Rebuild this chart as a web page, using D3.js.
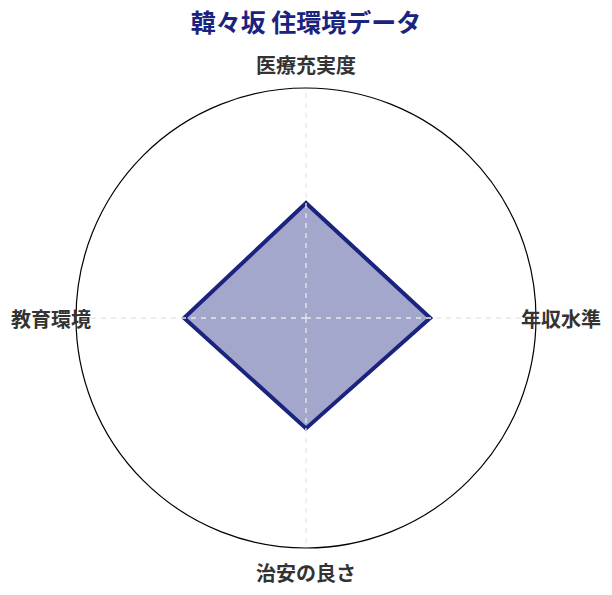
<!DOCTYPE html>
<html>
<head>
<meta charset="utf-8">
<script src="https://cdn.jsdelivr.net/npm/d3@7"></script>
<style>
  body { margin: 0; background: #fff; }
  text { font-family: "Noto Sans CJK JP", "Noto Sans", sans-serif; }
</style>
</head>
<body>
<div id="chart"></div>
<script>
// 軸ラベル（上から時計回り）
const axes = ["医療充実度", "年収水準", "治安の良さ", "教育環境"];
// 各軸の値（0〜100）
const values = [50, 54, 48, 53];
const maxValue = 100;
const title = "韓々坂 住環境データ";

const width = 612, height = 595;
const cx = 306, cy = 318, radius = 230;

const svg = d3.select("#chart")
  .append("svg")
  .attr("width", width)
  .attr("height", height);

const r = d3.scaleLinear().domain([0, maxValue]).range([0, radius]);
const angle = d3.scalePoint().domain(axes.concat("_end")).range([0, 2 * Math.PI]);

const g = svg.append("g").attr("transform", `translate(${cx},${cy})`);

// 外周の円
g.append("circle")
  .attr("r", r(maxValue))
  .attr("fill", "none")
  .attr("stroke", "#000")
  .attr("stroke-width", 1.2);

// データの多角形
const line = d3.lineRadial()
  .angle((d, i) => angle(axes[i]))
  .radius(d => r(d))
  .curve(d3.curveLinearClosed);

g.append("path")
  .datum(values)
  .attr("d", line)
  .attr("fill", "#1a237e")
  .attr("fill-opacity", 0.4)
  .attr("stroke", "#1a237e")
  .attr("stroke-width", 4)
  .attr("stroke-linejoin", "miter");

// 軸線（破線）
g.selectAll(".axis")
  .data(axes)
  .enter()
  .append("line")
  .attr("class", "axis")
  .attr("x1", 0)
  .attr("y1", 0)
  .attr("x2", d => r(maxValue) * Math.sin(angle(d)))
  .attr("y2", d => -r(maxValue) * Math.cos(angle(d)))
  .attr("stroke", "#e8e8e8")
  .attr("stroke-width", 1.3)
  .attr("stroke-dasharray", "5,5");

// 軸ラベル
const labelPos = [
  { dx: 0, dy: -254, anchor: "middle" },
  { dx: 215, dy: 0, anchor: "start" },
  { dx: 0, dy: 254, anchor: "middle" },
  { dx: -215, dy: 0, anchor: "end" }
];
g.selectAll(".label")
  .data(axes)
  .enter()
  .append("text")
  .attr("class", "label")
  .attr("x", (d, i) => labelPos[i].dx)
  .attr("y", (d, i) => labelPos[i].dy)
  .attr("text-anchor", (d, i) => labelPos[i].anchor)
  .attr("dominant-baseline", "central")
  .attr("font-size", "20px")
  .attr("font-weight", "bold")
  .attr("fill", "#333")
  .text(d => d);

// タイトル
svg.append("text")
  .attr("x", width / 2)
  .attr("y", 21)
  .attr("text-anchor", "middle")
  .attr("dominant-baseline", "central")
  .attr("font-size", "25px")
  .attr("font-weight", "bold")
  .attr("fill", "#1a237e")
  .text(title);
</script>
</body>
</html>
